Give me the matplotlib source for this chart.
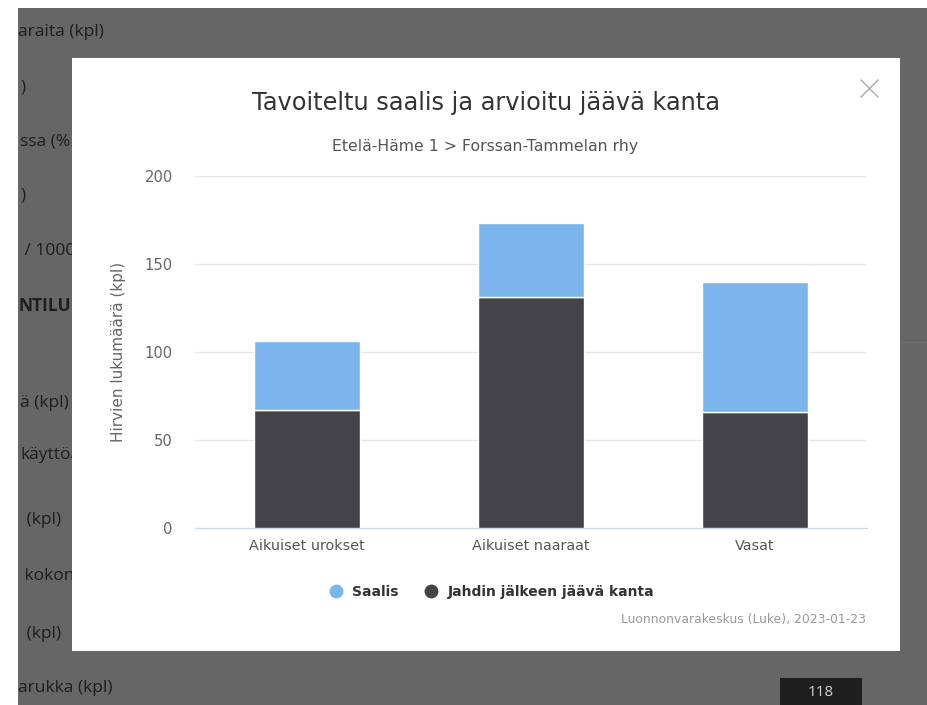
import numpy as np
import matplotlib
matplotlib.use("Agg")
import matplotlib.pyplot as plt
from matplotlib.patches import Rectangle
from matplotlib.lines import Line2D

plt.rcParams['font.family'] = ['DejaVu Sans']

# chart data
categories = ["Aikuiset urokset", "Aikuiset naaraat", "Vasat"]
remaining = [67, 131, 66]     # Jahdin jälkeen jäävä kanta
catch = [39, 42, 74]          # Saalis
yticks = [0, 50, 100, 150, 200]

title = "Tavoiteltu saalis ja arvioitu jäävä kanta"
subtitle = "Etelä-Häme 1 > Forssan-Tammelan rhy"
ylabel = "Hirvien lukumäärä (kpl)"
credit = "Luonnonvarakeskus (Luke), 2023-01-23"

# page text behind the modal (cut off on screen)
bg_rows = [("araita (kpl)", 18, 32, False), (")", 20, 87, False),
           ("ssa (%", 20, 141, False), (")", 20, 195, False),
           (" / 1000", 20, 251, False), ("NTILU", 18, 306, True),
           ("ä (kpl)", 20, 403, False), ("käyttöa", 20, 455, False),
           (" (kpl)", 22, 520, False), (" kokon", 20, 576, False),
           (" (kpl)", 22, 634, False), ("arukka (kpl)", 18, 688, False)]

W, H = 928, 705
fig = plt.figure(figsize=(W / 100, H / 100), dpi=100)
fig.patch.set_facecolor("white")


def fx(px):
    return px / W


def fy(py):
    return 1 - py / H


# grey overlay page
fig.patches.append(Rectangle((fx(18), 0), 1, fy(8), transform=fig.transFigure,
                             facecolor="#666666", edgecolor="none", zorder=0))
for txt, x, y, bold in bg_rows:
    fig.text(fx(x), fy(y), txt, fontsize=12.5, color="#1e1e1e", family="Open Sans",
             fontweight="bold" if bold else "normal", va="center", ha="left", zorder=1)
fig.add_artist(Line2D([fx(900), 1], [fy(342), fy(342)], transform=fig.transFigure,
                      color="#707070", lw=1, zorder=1))
fig.patches.append(Rectangle((fx(780), 0), fx(82), 27 / H,
                             transform=fig.transFigure, facecolor="#1f1f1f",
                             edgecolor="none", zorder=1))
fig.text(fx(821), fy(692), "118", fontsize=11, color="#d0d0d0", family="Open Sans",
         ha="center", va="center", zorder=2)

# white modal
fig.patches.append(Rectangle((fx(72), fy(651)), fx(900 - 72), (651 - 58) / H,
                             transform=fig.transFigure, facecolor="white",
                             edgecolor="none", zorder=3))
# close cross
for xs, ys in [((861, 878), (80, 97)), ((861, 878), (97, 80))]:
    fig.add_artist(Line2D([fx(xs[0]), fx(xs[1])], [fy(ys[0]), fy(ys[1])],
                          transform=fig.transFigure, color="#aaaaaa", lw=1, zorder=4))

fig.text(fx(486), fy(103), title, fontsize=17.3, color="#333333",
         ha="center", va="center", zorder=4)
fig.text(fx(485), fy(147), subtitle, fontsize=11.3, color="#555555",
         ha="center", va="center", zorder=4)
fig.text(fx(866), fy(620), credit, fontsize=8.9, color="#999999",
         ha="right", va="center", zorder=4)

ax = fig.add_axes([fx(195), fy(527.7), fx(867 - 195), (527.7 - 176) / H], zorder=5)
ax.set_facecolor("none")
x = np.arange(len(categories))
ax.bar(x, remaining, width=0.47, color="#434348", edgecolor="white", linewidth=1, zorder=3)
ax.bar(x, catch, bottom=remaining, width=0.47, color="#7cb5ec",
       edgecolor="white", linewidth=1, zorder=3)

ax.set_xlim(-0.5, len(categories) - 0.5)
ax.set_ylim(0, 200)
ax.set_yticks(yticks)
ax.set_xticks(x)
ax.set_xticklabels(categories, fontsize=10.4, color="#555555")
ax.tick_params(axis="y", labelsize=10.6, colors="#666666", length=0, pad=16)
ax.tick_params(axis="x", length=0, pad=8)
ax.grid(axis="y", color="#e6e6e6", linewidth=1, zorder=0)
for s in ["top", "right", "left"]:
    ax.spines[s].set_visible(False)
ax.spines["bottom"].set_color("#ccd6eb")
ax.set_ylabel(ylabel, fontsize=11, color="#666666", labelpad=13)

handles = [Line2D([], [], marker="o", linestyle="none", markersize=10,
                  markerfacecolor="#7cb5ec", markeredgecolor="none", label="Saalis"),
           Line2D([], [], marker="o", linestyle="none", markersize=10,
                  markerfacecolor="#434348", markeredgecolor="none",
                  label="Jahdin jälkeen jäävä kanta")]
leg = fig.legend(handles=handles, loc="center", bbox_to_anchor=(fx(488), fy(592)),
                 ncol=2, frameon=False, fontsize=10, handletextpad=0.2,
                 columnspacing=1.3)
leg.set_zorder(6)
for t in leg.get_texts():
    t.set_color("#333333")
    t.set_fontweight("semibold")

fig.savefig("out.png", dpi=100, facecolor=fig.get_facecolor())
